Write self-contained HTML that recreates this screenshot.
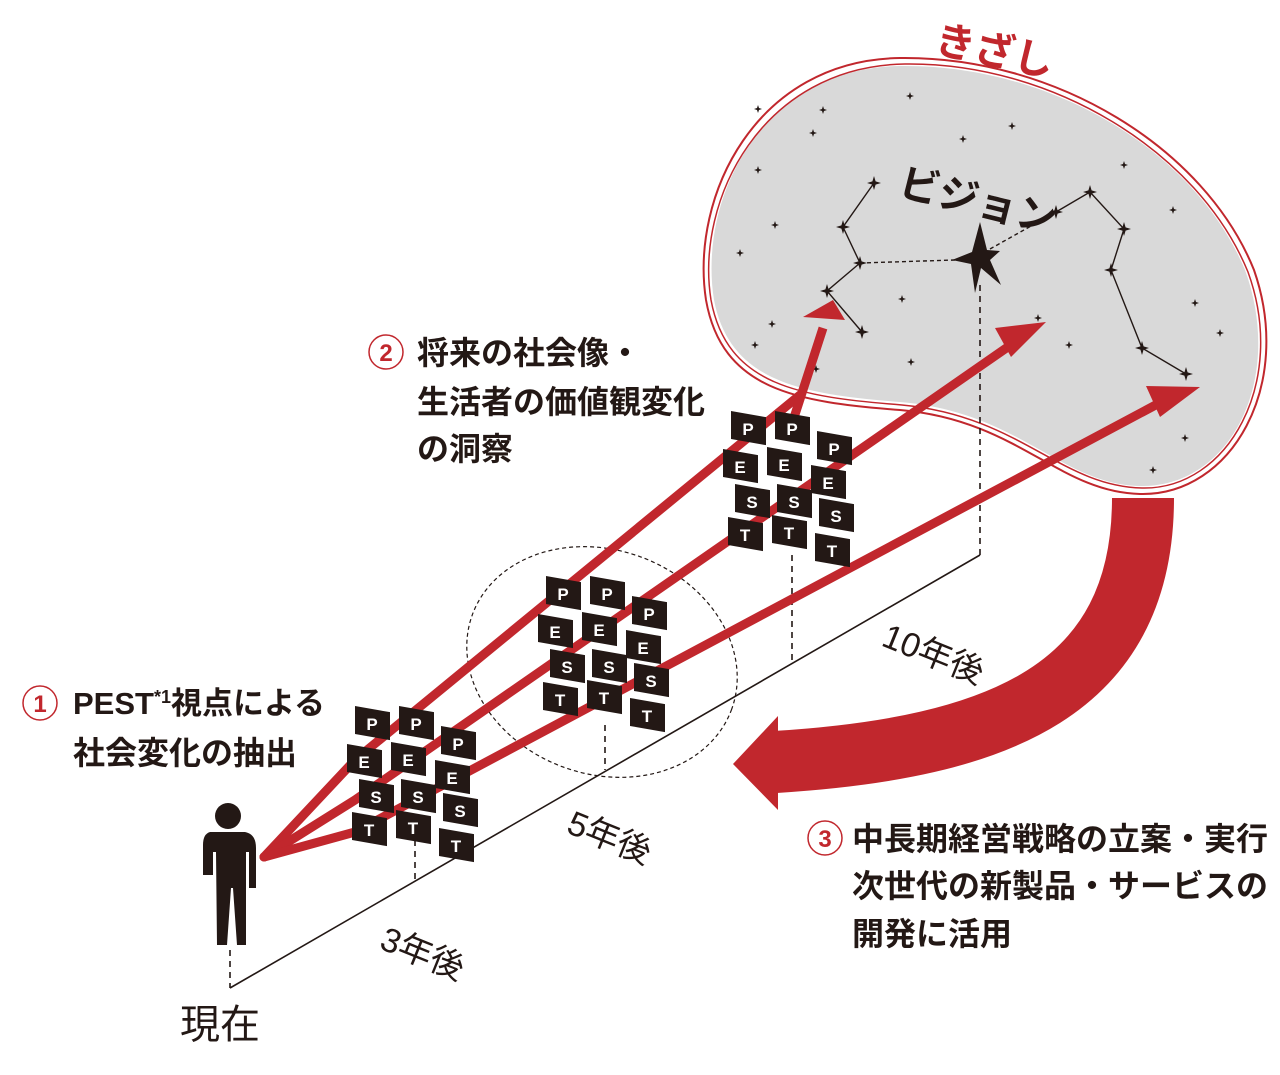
<!DOCTYPE html>
<html><head><meta charset="utf-8"><style>
html,body{margin:0;padding:0;background:#fff}
svg{display:block}
.j{font-family:"Liberation Sans","Noto Sans CJK JP",sans-serif}
.b{font-weight:700}
.c{font-family:"Liberation Sans",sans-serif;font-weight:700;font-size:17px;fill:#fff;text-anchor:middle}
</style></head><body>
<svg width="1280" height="1075" viewBox="0 0 1280 1075" xmlns="http://www.w3.org/2000/svg">
<defs>
<g id="card"><rect x="-17" y="-14" width="35" height="28" fill="#231815" transform="skewY(10)"/></g>
<g id="st"><path d="M0,-7 L1.6,-1.6 L7,0 L1.6,1.6 L0,7 L-1.6,1.6 L-7,0 L-1.6,-1.6Z" fill="#231815"/></g>
<g id="sts"><path d="M0,-4 L1,-1 L4,0 L1,1 L0,4 L-1,1 L-4,0 L-1,-1Z" fill="#231815"/></g>
<g id="cl">
<use href="#card" x="0" y="0"/><text class="c" x="0" y="7">P</text>
<use href="#card" x="44" y="0"/><text class="c" x="44" y="7">P</text>
<use href="#card" x="86" y="20"/><text class="c" x="86" y="27">P</text>
<use href="#card" x="-8" y="38"/><text class="c" x="-8" y="45">E</text>
<use href="#card" x="36" y="36"/><text class="c" x="36" y="43">E</text>
<use href="#card" x="80" y="54"/><text class="c" x="80" y="61">E</text>
<use href="#card" x="4" y="73"/><text class="c" x="4" y="80">S</text>
<use href="#card" x="46" y="73"/><text class="c" x="46" y="80">S</text>
<use href="#card" x="88" y="87"/><text class="c" x="88" y="94">S</text>
<use href="#card" x="-3" y="106"/><text class="c" x="-3" y="113">T</text>
<use href="#card" x="41" y="104"/><text class="c" x="41" y="111">T</text>
<use href="#card" x="84" y="122"/><text class="c" x="84" y="129">T</text>
</g>
</defs>

<path d="M900,66 C1050,64 1195,150 1245,270 C1285,380 1230,488 1140,486 C1060,484 1020,412 900,402 C800,394 730,382 714,300 C698,200 760,68 900,66Z" fill="#d9d9d9"/>
<path d="M900,58 C1055,56 1205,148 1254,270 C1294,385 1232,496 1140,494 C1058,492 1018,420 900,410 C796,402 722,390 706,300 C690,196 756,60 900,58Z" fill="none" stroke="#c1272d" stroke-width="2"/>
<path d="M905,64 C1050,62 1198,150 1248,272 C1288,382 1228,490 1142,488 C1060,486 1020,416 902,405 C800,397 727,386 711,300 C695,200 762,66 905,64Z" fill="none" stroke="#c1272d" stroke-width="1.5"/>

<g stroke="#231815" stroke-width="1.4" fill="none">
<polyline points="874,183 843,227 860,263 827,291 862,332"/>
<polyline points="1056,212 1090,192 1124,229 1111,270 1142,348 1186,374"/>
</g>
<g stroke="#231815" stroke-width="1.4" stroke-dasharray="4,3" fill="none">
<line x1="860" y1="263" x2="955" y2="260"/>
<line x1="990" y1="249" x2="1056" y2="212"/>
</g>
<path d="M980,222 L987,250 L1000,251 L990,260 L1001,285 L981,268 L975,293 L971,264 L952,260 L972,252Z" fill="#231815"/>
<g>
<use href="#st" x="874" y="183"/><use href="#st" x="843" y="227"/><use href="#st" x="860" y="263"/><use href="#st" x="827" y="291"/><use href="#st" x="862" y="332"/>
<use href="#st" x="1056" y="212"/><use href="#st" x="1090" y="192"/><use href="#st" x="1124" y="229"/><use href="#st" x="1111" y="270"/><use href="#st" x="1142" y="348"/><use href="#st" x="1186" y="374"/>
<use href="#sts" x="910" y="96"/><use href="#sts" x="813" y="133"/><use href="#sts" x="963" y="139"/><use href="#sts" x="1012" y="126"/><use href="#sts" x="758" y="109"/><use href="#sts" x="823" y="110"/>
<use href="#sts" x="740" y="253"/><use href="#sts" x="775" y="225"/><use href="#sts" x="758" y="170"/><use href="#sts" x="1124" y="165"/><use href="#sts" x="1173" y="210"/><use href="#sts" x="1195" y="303"/>
<use href="#sts" x="1220" y="333"/><use href="#sts" x="1038" y="318"/><use href="#sts" x="1069" y="345"/><use href="#sts" x="911" y="362"/><use href="#sts" x="755" y="345"/><use href="#sts" x="816" y="369"/>
<use href="#sts" x="772" y="324"/><use href="#sts" x="902" y="299"/><use href="#sts" x="1185" y="438"/><use href="#sts" x="1153" y="470"/>
</g>
<text class="j b" x="897" y="195" font-size="40" fill="#231815" transform="rotate(14 897 195)">ビジョン</text>
<text class="j b" x="933" y="52" font-size="40" fill="#c1272d" transform="rotate(12 933 52)">きざし</text>

<line x1="230" y1="988" x2="980" y2="555" stroke="#231815" stroke-width="1.6"/>
<g stroke="#231815" stroke-width="1.6" stroke-dasharray="6,5">
<line x1="230" y1="950" x2="230" y2="988"/>
<line x1="415" y1="840" x2="415" y2="880"/>
<line x1="605" y1="725" x2="605" y2="770"/>
<line x1="792" y1="555" x2="792" y2="665"/>
<line x1="980" y1="285" x2="980" y2="555"/>
</g>
<ellipse cx="602" cy="662" rx="138" ry="112" transform="rotate(20 602 662)" fill="none" stroke="#231815" stroke-width="1.2" stroke-dasharray="4,3"/>

<g stroke="#c1272d" stroke-width="9" fill="none" stroke-linejoin="round" stroke-linecap="round">
<path d="M264,857 L355,760 L800,395"/>
<path d="M264,857 L355,800 L1015,342"/>
<path d="M264,857 L355,832 L1165,400"/>
</g>
<line x1="790" y1="430" x2="823" y2="328" stroke="#c1272d" stroke-width="9"/>
<polygon points="833,300 845,320 803,317" fill="#c1272d"/>
<polygon points="1046,322 1011,357 995,328" fill="#c1272d"/>
<polygon points="1200,387 1160,417 1146,386" fill="#c1272d"/>

<use href="#cl" x="372" y="723"/>
<use href="#cl" x="563" y="593"/>
<use href="#cl" x="748" y="428"/>

<path d="M1143,498 C1143,690 1000,748 775,762" fill="none" stroke="#c1272d" stroke-width="62"/>
<polygon points="778,716 733,764 778,810" fill="#c1272d"/>

<circle cx="228" cy="816" r="13" fill="#231815"/>
<path d="M210,832 L245,832 Q256,834 256,848 L256,888 L249,888 L249,852 L246,852 L246,945 L237,945 L233,888 L231,888 L227,945 L217,945 L216,852 L213,852 L213,875 L203,875 L203,845 Q203,834 210,832Z" fill="#231815"/>

<g class="j" fill="#231815">
<text x="378" y="948" font-size="34" transform="rotate(22 378 948)">3年後</text>
<text x="565" y="832" font-size="34" transform="rotate(22 565 832)">5年後</text>
<text x="880" y="645" font-size="34" transform="rotate(22 880 645)">10年後</text>
<text x="180" y="1038" font-size="40">現在</text>
</g>
<g class="j b" font-size="32" fill="#231815">
<text x="73" y="714" font-size="31">PEST<tspan font-size="18" dy="-11">*1</tspan><tspan dy="11">視点による</tspan></text>
<text x="73" y="764">社会変化の抽出</text>
<text x="417" y="364">将来の社会像・</text>
<text x="417" y="413">生活者の価値観変化</text>
<text x="417" y="460">の洞察</text>
<text x="852" y="850">中長期経営戦略の立案・実行</text>
<text x="852" y="897">次世代の新製品・サービスの</text>
<text x="852" y="945">開発に活用</text>
</g>
<g fill="none" stroke="#c1272d" stroke-width="1.5">
<circle cx="40" cy="703" r="17"/><circle cx="386" cy="352" r="17"/><circle cx="825" cy="838" r="17"/>
</g>
<g class="j b" font-size="24" fill="#c1272d" text-anchor="middle">
<text x="40" y="712">1</text><text x="386" y="361">2</text><text x="825" y="847">3</text>
</g>
</svg>
</body></html>
